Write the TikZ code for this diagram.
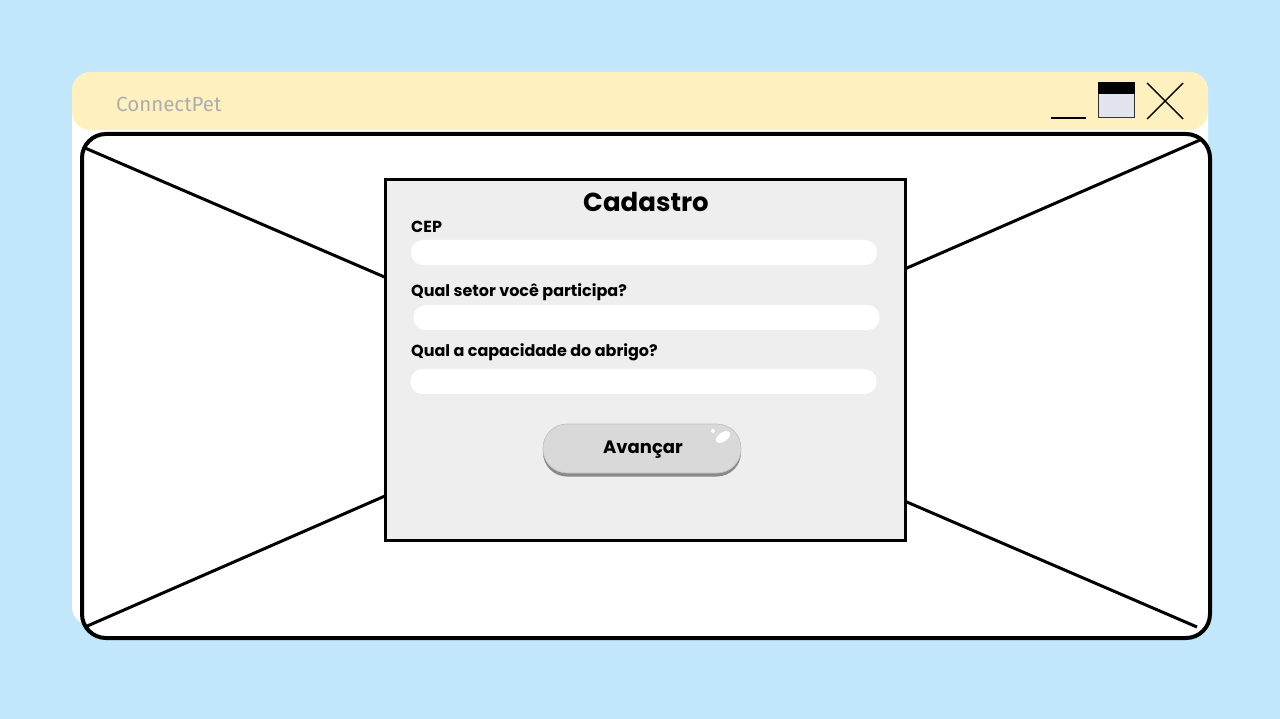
\documentclass[tikz,border=0pt]{standalone}
\usepackage{fontspec}
\setmainfont{Poppins}
\newfontfamily\apptitlefont{Fira Sans}
\usetikzlibrary{positioning}

\definecolor{skyblue}{HTML}{C2E7FB}
\definecolor{baryellow}{HTML}{FFF1BF}
\definecolor{cardgray}{HTML}{EEEEEE}
\definecolor{btngray}{HTML}{D9D9D9}
\definecolor{btnshadow}{HTML}{8A8A8A}
\definecolor{titlegray}{HTML}{ADADAD}
\definecolor{winpale}{HTML}{E2E4EE}

\tikzset{
  field/.style={fill=white,rounded corners=12pt,minimum width=466pt,minimum height=25pt,inner sep=0pt},
  fieldlabel/.style={anchor=west,inner sep=0pt,font=\bfseries\fontsize{16}{16}\selectfont},
  cross/.style={line width=3pt},
  ctrl/.style={line width=1.4pt}
}

\begin{document}
\begin{tikzpicture}[x=1pt,y=-1pt]
            % Background
            \fill[skyblue] (0,0) rectangle (1280,719);
            \useasboundingbox (0,0) rectangle (1280,719);

            % Window body and title bar
            \fill[white,rounded corners=18pt] (72,90) rectangle (1208,625);
            \node[fill=baryellow,rounded corners=18pt,minimum width=1136pt,minimum height=58pt,inner sep=0pt] (bar) at (640,101) {};
            \node[anchor=west,inner sep=0pt,text=titlegray,font=\apptitlefont\fontsize{20.5}{20}\selectfont] (apptitle) at (116,104) {ConnectPet};

            % Window controls
            \coordinate (minl) at (1051,118);
            \coordinate (minr) at (1086,118);
            \draw[ctrl] (minl) -- (minr);
            \node[draw=black!80,line width=1pt,fill=winpale,minimum width=36pt,minimum height=35pt,inner sep=0pt] (maxbox) at (1116.5,100.5) {};
            \fill[black] (maxbox.north west) rectangle ([yshift=-12pt]maxbox.north east);
            \coordinate (xa) at (1147,83);
            \coordinate (xb) at (1183,119);
            \coordinate (xc) at (1183,83);
            \coordinate (xd) at (1147,119);
            \draw[ctrl] (xa) -- (xb);
            \draw[ctrl] (xc) -- (xd);

            % Placeholder frame with cross
            \node[draw,fill=white,line width=4pt,rounded corners=24pt,minimum width=1128pt,minimum height=504pt,inner sep=0pt] (frame) at (646,386) {};
            \coordinate (ca) at (85,148);
            \coordinate (cb) at (1197,627);
            \coordinate (cc) at (85,627);
            \coordinate (cd) at (1200,140);
            \draw[cross] (ca) -- (cb);
            \draw[cross] (cc) -- (cd);

            % Form card
            \node[draw,line width=3pt,fill=cardgray,minimum width=520pt,minimum height=361pt,inner sep=0pt] (card) at (645.5,360) {};
            \node[inner sep=0pt,font=\bfseries\fontsize{26}{26}\selectfont] (title) at (646,202) {Cadastro};

            % Fields
            \node[fieldlabel] (cep) at (411,227) {CEP};
            \node[field] (cepfield) at (644,252.5) {};
            \node[fieldlabel] (setor) at (411,292) {Qual setor você participa?};
            \node[field] (setorfield) at (646.5,317.5) {};
            \node[fieldlabel] (capac) at (411,352) {Qual a capacidade do abrigo?};
            \node[field] (capacfield) at (643.5,381.5) {};

            % Button
            \node[fill=btnshadow,rounded corners=24pt,minimum width=198pt,minimum height=49pt,inner sep=0pt] (btnshade) at (642,452) {};
            \node[fill=btngray,draw=black!25,line width=0.6pt,rounded corners=24pt,minimum width=198pt,minimum height=49pt,inner sep=0pt,font=\bfseries\fontsize{18}{18}\selectfont] (btn) at (642,448.5) {};
            \node[inner sep=0pt,font=\bfseries\fontsize{18}{18}\selectfont] (btntext) at (643,449.5) {Avançar};
            \fill[white,rotate around={35:(723,437)}] (723,437) ellipse (8pt and 4.5pt);
            \fill[white] (713,431) circle (2pt);
\end{tikzpicture}
\end{document}
